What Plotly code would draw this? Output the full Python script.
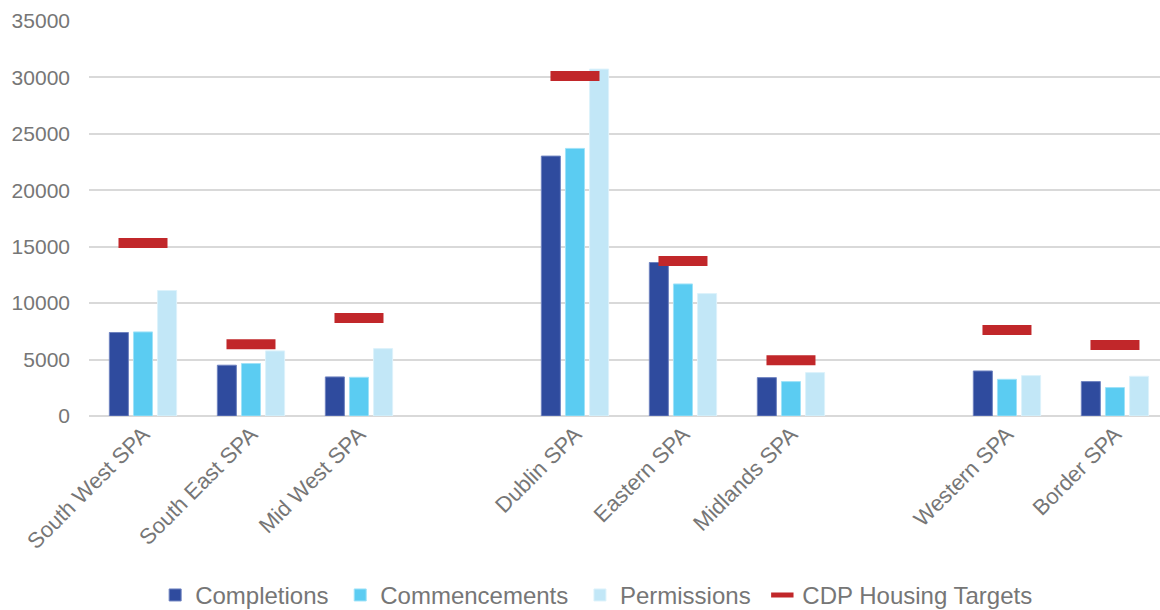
import plotly.graph_objects as go

categories = ["South West SPA", "South East SPA", "Mid West SPA",
              "Dublin SPA", "Eastern SPA", "Midlands SPA",
              "Western SPA", "Border SPA"]
# axis order with blank spacer slots between regional groups
category_order = ["South West SPA", "South East SPA", "Mid West SPA", " ",
                  "Dublin SPA", "Eastern SPA", "Midlands SPA", "  ",
                  "Western SPA", "Border SPA"]
series_names = ["Completions", "Commencements", "Permissions", "CDP Housing Targets"]

completions = [7400, 4500, 3460, 23030, 13600, 3400, 3990, 3050]
commencements = [7450, 4650, 3430, 23710, 11700, 3050, 3250, 2520]
permissions = [11120, 5770, 5970, 30740, 10850, 3850, 3580, 3520]
targets = [15330, 6360, 8680, 30120, 13730, 4950, 7620, 6290]

font_family = "Liberation Sans, Arial, sans-serif"
grey = "#767676"
pad = "\u00a0"

fig = go.Figure()
fig.add_bar(name=series_names[0] + pad, x=categories, y=completions,
            marker=dict(color="#2F4B9E", line=dict(color="#6F83C0", width=1)))
fig.add_bar(name=series_names[1] + pad, x=categories, y=commencements,
            marker=dict(color="#5BCCF2", line=dict(color="#9FE2F8", width=1)))
fig.add_bar(name=series_names[2] + pad, x=categories, y=permissions,
            marker=dict(color="#C2E7F7", line=dict(color="#DDF2FB", width=1)))
fig.add_scatter(name=series_names[3], x=categories, y=targets,
                mode="markers",
                marker=dict(symbol="line-ew", size=35, color="#C1272A",
                            line=dict(color="#C1272A", width=10)))

fig.update_layout(
    width=1160, height=610,
    margin=dict(l=89, r=0, t=21, b=194),
    paper_bgcolor="white", plot_bgcolor="white",
    barmode="group", bargap=0.33, bargroupgap=0.21,
    font=dict(family=font_family, size=21, color=grey),
    showlegend=True,
    legend=dict(orientation="h", x=0.474, xanchor="center",
                yref="container", y=0.024, yanchor="middle",
                font=dict(size=24, color=grey), itemwidth=30,
                traceorder="normal"),
)
fig.update_xaxes(type="category", categoryorder="array",
                 categoryarray=category_order, range=[-0.5, 9.417],
                 tickangle=-45, showgrid=False, showline=False, ticks="",
                 tickfont=dict(size=22, color=grey), automargin=False)
fig.update_yaxes(range=[0, 35000], dtick=5000, tickformat="d", showgrid=True,
                 gridcolor="#D9D9D9", gridwidth=1.5,
                 zeroline=True, zerolinecolor="#D9D9D9", zerolinewidth=1.5,
                 showline=False, ticks="", ticklabelstandoff=18,
                 tickfont=dict(size=21, color=grey), automargin=False)

fig.write_html("out.html")
